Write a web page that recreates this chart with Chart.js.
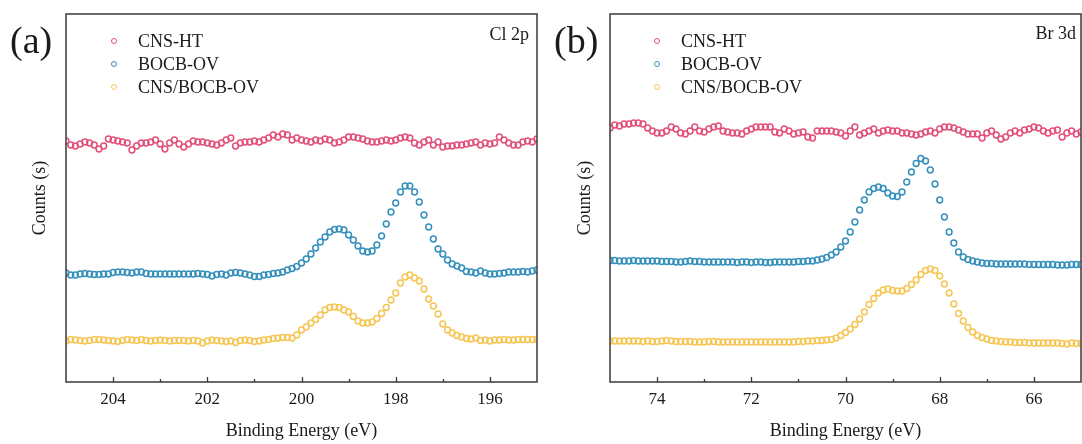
<!DOCTYPE html>
<html><head><meta charset="utf-8">
<script src="https://cdn.jsdelivr.net/npm/chart.js@4.4.1/dist/chart.umd.min.js"></script>
<style>
html,body{margin:0;padding:0;background:#fff;}
#wrap{position:relative;width:1082px;height:444px;overflow:hidden;font-family:'Liberation Serif','Times New Roman',serif;color:#1a1a1a;}
canvas{position:absolute;top:0;}
.lbl{position:absolute;white-space:nowrap;}
</style></head>
<body><div id="wrap">
<canvas id="c1" width="541" height="444" style="left:0px;width:541px;height:444px"></canvas>
<canvas id="c2" width="541" height="444" style="left:541px;width:541px;height:444px"></canvas>
</div>
<script>
// ---------- data ----------
const seriesNames = ['CNS-HT', 'BOCB-OV', 'CNS/BOCB-OV'];
const seriesColors = ['#E2507A', '#3590BC', '#F6C654'];

// Panel (a): Cl 2p, binding energy 205.0 -> 195.0 eV, step 0.1 eV
const clStart = 205.0, clStep = -0.1;
const clTicks = [204, 202, 200, 198, 196];
const clMinorTicks = [203, 201, 199, 197];
const clCnsHT = [
 241,237,236,238,240,239,237,233,236,243,
 242,241,240,239,232,236,239,239,240,242,
 238,233,239,242,238,235,238,241,240,240,
 239,238,237,239,242,244,236,239,240,240,
 241,240,242,244,247,245,248,247,242,244,
 242,241,240,242,241,243,242,239,240,242,
 245,245,244,243,241,240,240,241,242,241,
 242,244,245,244,239,237,240,242,237,240,
 235,236,236,237,237,238,239,240,237,239,
 238,239,245,242,239,237,237,240,241,240,243];
const clBocbOV = [
 109,107,107,108,108.5,108,107.5,107.5,108,108,
 109.5,110,110,109.5,109,110,110,108.5,108,108,
 108,108,108,108,108,108,108,108,108.5,108,
 107.5,106,107.5,108,107,109,109.5,109,108,107,
 105.5,105.5,107,107.5,108.5,109,110,112,113.5,115.5,
 119,123,128,134,140,145,150,152.5,153,152,
 147,142,136,131,130,131,137,146,158,170,
 179,190,196,196,190,180,167,155,143,133,
 128,122,118,116,114,110.5,110,109,111,109,
 108,108,108.5,109,110,110,110,110.5,110,111,112];
const clCnsBocbOV = [
 41,42.5,42,41.5,41,41.5,42.5,42.5,42,41.5,
 41,40.5,41.5,42.5,42,41.5,42.5,41.5,41,41.5,
 42,41.5,41,41.5,41.5,41.5,41,41.5,41,39,
 41,42,41.5,41,40.5,41,39.5,41.5,42,41.5,
 40.5,41,42,42.5,43.5,44,44.5,44.5,44,47,
 52,55,59,62.5,67,72,74.5,75,74.5,72,
 70,65.5,61,59,59,60,63.5,68.5,74.5,82,
 89,99,105,107,104,101,93,83,76,68,
 58,52,49,46.5,45,43.5,43,44,41.5,42,
 41,42,42,42.5,42,42,42.5,42.5,42.5,42.5,42.5];

// Panel (b): Br 3d, binding energy 75.0 -> 65.0 eV, step 0.1 eV
const brStart = 75.0, brStep = -0.1;
const brTicks = [74, 72, 70, 68, 66];
const brMinorTicks = [73, 71, 69, 67];
const brCnsHT = [
 254,257,256,258,258,259,259,258,254,251,
 249,249,251,255,253,249,248,251,255,251,
 250,253,255,256,251,250,249,249,248,251,
 253,255,255,255,255,250,249,253,251,248,
 249,250,245,244,251,251,251,251,250,249,
 246,251,255,247,249,251,253,249,251,252,
 251,251,249,249,248,247,248,250,251,249,
 253,255,255,254,252,250,248,248,248,244,
 249,251,247,243,245,249,251,249,252,253,
 255,254,251,249,251,252,245,249,251,248,250];
const brBocbOV = [
 121.5,121.5,121,121,121,121.5,121,121,121,121,
 121,120.5,120.5,120.5,120,120,120.5,121,120.5,120.5,
 120,120,120,120,120,120,120,119.5,120,120,
 119.5,120,120,119.5,119.5,120,120,120,120,120,
 120.5,120.5,121,121,122,123,124.5,127,130,135,
 141,150,160,172,182,190,193.5,195,193.5,189,
 186,185.5,190,200,210,218.5,223.5,221,212,198,
 182,165,150,139,130,125,122.5,121,120,119,
 118.5,118.5,118,118,118,118,118,118,118,117.5,
 117.5,117.5,117.5,117.5,117.5,117,117,117,117.5,117.5,117.5];
const brCnsBocbOV = [
 41,41,41,41,41,41,41,40.5,41,40.5,
 40.5,41,41.5,41,40.5,40.5,40.5,40.5,40,40,
 40,40.5,40.5,40,40,40,40,40,40,40,
 40,40,40,40,40,40,40,40,40,40,
 40.5,40.5,41,41,41.5,41.5,42,42.5,44,46.5,
 49.5,53,57.5,63,70,77.5,83.5,89,92,93,
 91.5,91,91,93.5,97.5,102,107.5,111.5,113,111.5,
 106,98,89,78,68.5,61,54.5,50,46.5,44.5,
 43,41.5,41,40.5,40,40,39.5,39.5,39.5,39,
 39,39,39,39,39,39,38.5,38,39,38.5,38.5];

// ---------- drawing ----------
const FONT = "'Liberation Serif', 'Times New Roman', serif";
const INK = '#1a1a1a';
Chart.defaults.font.family = FONT;
Chart.defaults.color = INK;

function toPoints(start, step, vals) {
  return vals.map((v, i) => ({ x: Math.round((start + i * step) * 100) / 100, y: v }));
}

const framePlugin = {
  id: 'frame',
  afterDatasetsDraw(chart, args, opts) {
    const { ctx, chartArea: a, scales: { x } } = chart;
    ctx.save();
    ctx.strokeStyle = '#3a3a3a';
    ctx.lineWidth = 1.5;
    ctx.strokeRect(a.left, a.top, a.right - a.left, a.bottom - a.top);
    ctx.lineWidth = 1.3;
    ctx.beginPath();
    opts.major.forEach(v => {
      const px = Math.round(x.getPixelForValue(v)) + 0.5;
      ctx.moveTo(px, a.bottom); ctx.lineTo(px, a.bottom - 5);
    });
    opts.minor.forEach(v => {
      const px = Math.round(x.getPixelForValue(v)) + 0.5;
      ctx.moveTo(px, a.bottom); ctx.lineTo(px, a.bottom - 3);
    });
    ctx.stroke();
    ctx.restore();
  }
};

function makePanel(id, start, step, series, ticks, minor, yWidth, rightPad, yTitlePad) {
  const xmax = start, xmin = start + (series[0].length - 1) * step;
  new Chart(document.getElementById(id), {
    type: 'scatter',
    data: {
      datasets: series.map((vals, k) => ({
        label: seriesNames[k],
        data: toPoints(start, step, vals),
        showLine: false,
        pointStyle: 'circle',
        pointRadius: 2.9,
        pointBorderWidth: 1.5,
        pointBackgroundColor: 'rgba(0,0,0,0)',
        pointBorderColor: seriesColors[k],
        borderColor: seriesColors[k],
        backgroundColor: 'rgba(0,0,0,0)'
      }))
    },
    options: {
      responsive: false,
      animation: false,
      devicePixelRatio: 1,
      layout: { autoPadding: false, padding: { left: 0, right: rightPad, top: 14, bottom: 0 } },
      plugins: {
        legend: { display: false },
        tooltip: { enabled: false },
        frame: { major: ticks, minor: minor }
      },
      scales: {
        x: {
          type: 'linear', min: xmin, max: xmax, reverse: true,
          afterBuildTicks: s => { s.ticks = ticks.map(v => ({ value: v })); },
          afterFit: s => { s.height = 62; },
          grid: { display: false, drawTicks: false },
          border: { display: false },
          ticks: { font: { size: 17, family: FONT }, color: INK, padding: 7, maxRotation: 0, autoSkip: false },
          title: { display: true, text: 'Binding Energy (eV)', font: { size: 18, family: FONT }, color: INK, padding: { top: 0, bottom: 2 } }
        },
        y: {
          min: 0, max: 368,
          ticks: { display: false },
          grid: { display: false, drawTicks: false },
          border: { display: false },
          afterFit: s => { s.width = yWidth; },
          title: { display: true, text: 'Counts (s)', font: { size: 18, family: FONT }, color: INK, padding: { top: yTitlePad, bottom: 0 } }
        }
      }
    },
    plugins: [framePlugin]
  });
}

makePanel('c1', clStart, clStep, [clCnsHT, clBocbOV, clCnsBocbOV], clTicks, clMinorTicks, 66, 4, 29);
makePanel('c2', brStart, brStep, [brCnsHT, brBocbOV, brCnsBocbOV], brTicks, brMinorTicks, 69, 1, 33);

// ---------- text overlays: panel letters, element labels, legends ----------
const wrap = document.getElementById('wrap');
function addText(txt, css) {
  const d = document.createElement('div');
  d.className = 'lbl';
  d.textContent = txt;
  Object.assign(d.style, css);
  wrap.appendChild(d);
  return d;
}
addText('(a)', { left: '10px', top: '19px', fontSize: '38px', lineHeight: '42px' });
addText('(b)', { left: '554px', top: '19px', fontSize: '38px', lineHeight: '42px' });
addText('Cl 2p', { right: (1082 - 529) + 'px', top: '24px', fontSize: '18px', lineHeight: '20px' });
addText('Br 3d', { right: (1082 - 1076) + 'px', top: '23px', fontSize: '18px', lineHeight: '20px' });

function addLegend(markerX, ys) {
  seriesNames.forEach((name, k) => {
    const dot = document.createElement('div');
    Object.assign(dot.style, {
      position: 'absolute', left: (markerX - 3.5) + 'px', top: (ys[k] - 3.5) + 'px',
      width: '4.6px', height: '4.6px', borderRadius: '50%',
      border: '1.4px solid ' + seriesColors[k]
    });
    wrap.appendChild(dot);
    addText(name, { left: (markerX + 24) + 'px', top: (ys[k] - 10) + 'px', fontSize: '18px', lineHeight: '20px' });
  });
}
addLegend(114, [41, 64, 87]);
addLegend(657, [41, 64, 87]);
</script>
</body></html>
